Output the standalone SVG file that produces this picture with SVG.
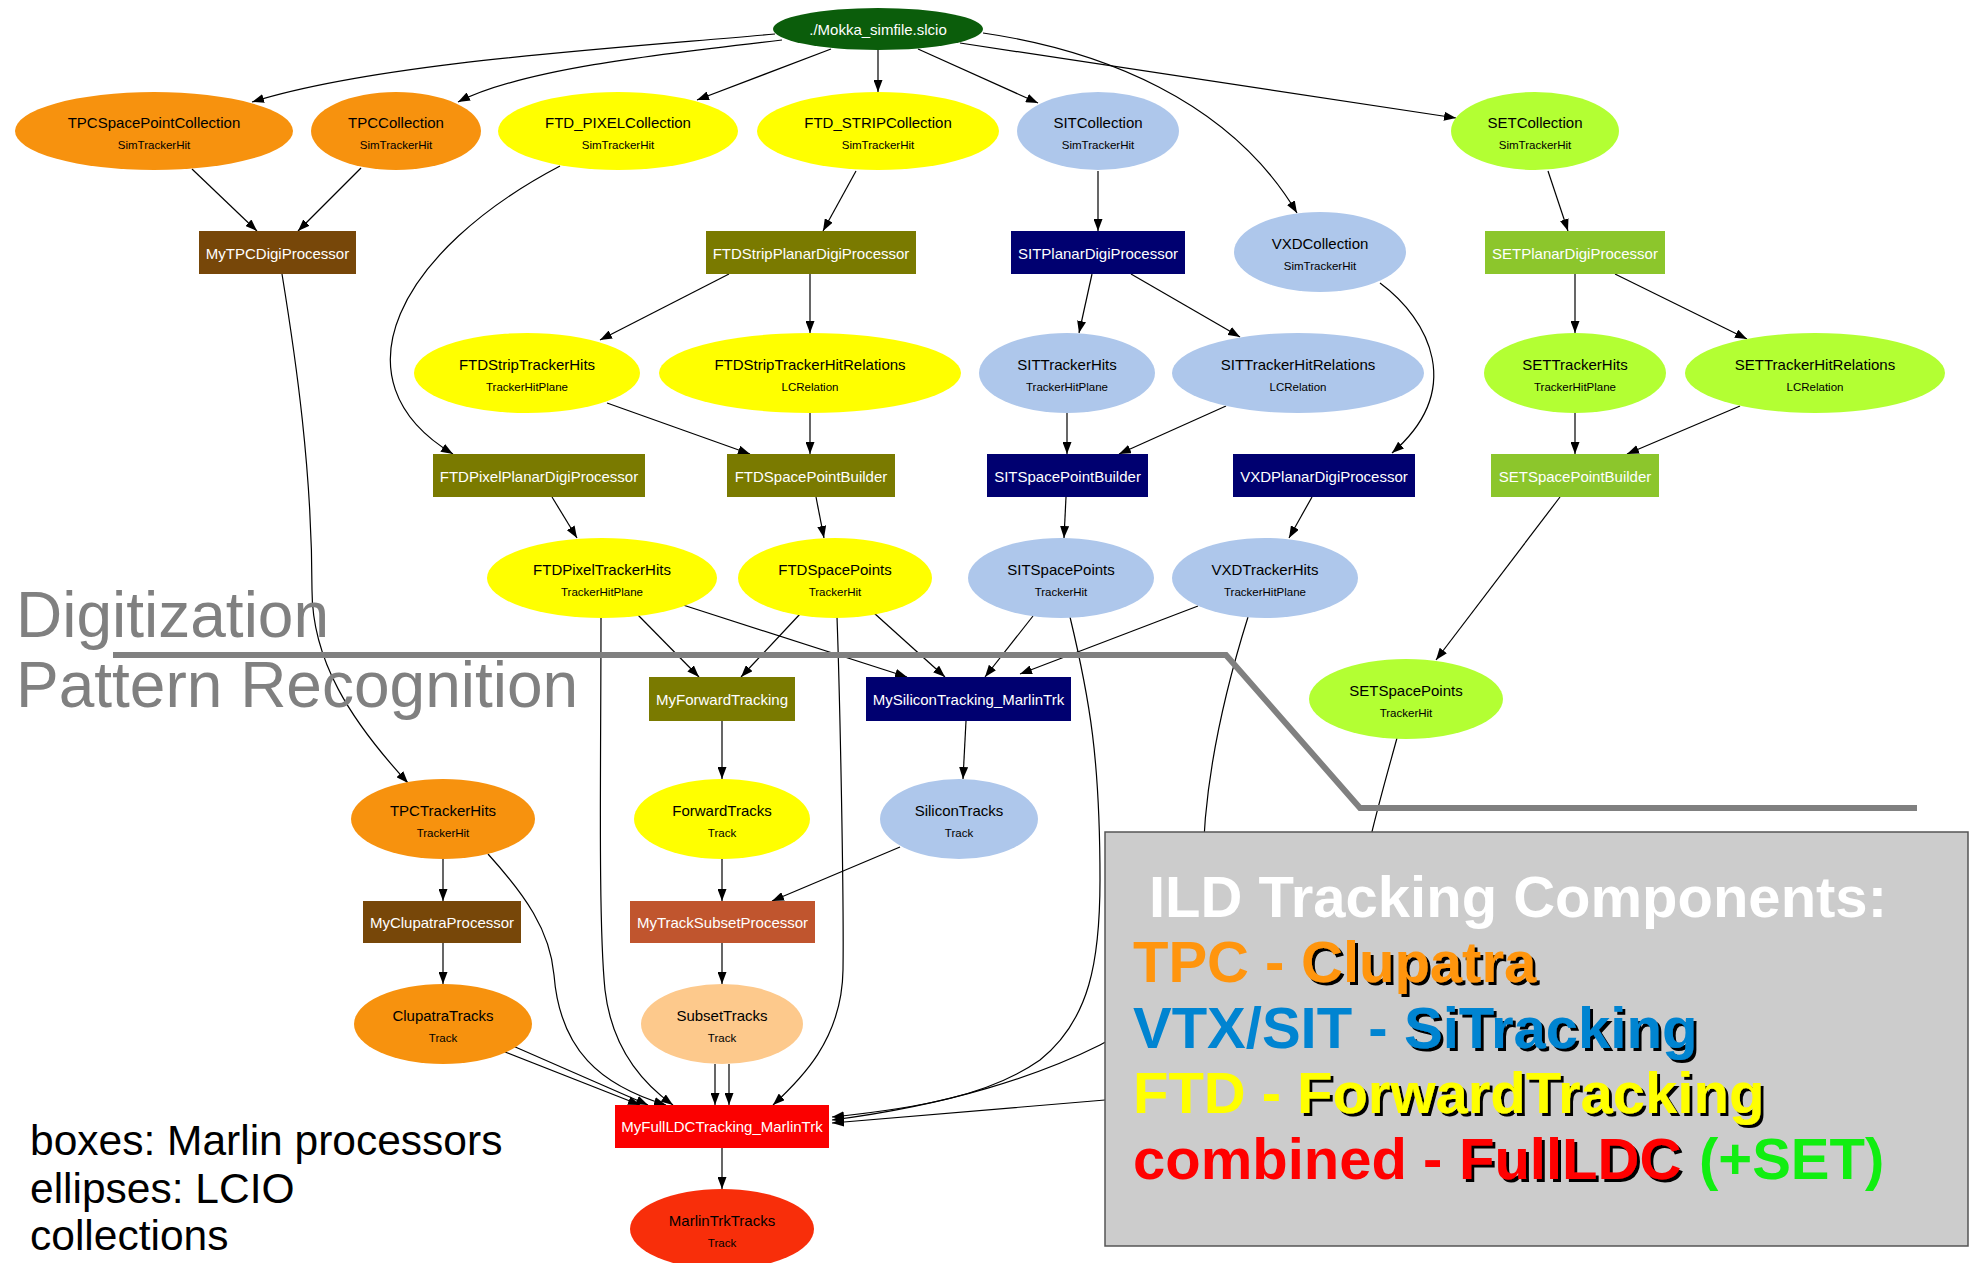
<svg xmlns="http://www.w3.org/2000/svg" width="1971" height="1263" viewBox="0 0 1971 1263">
  <defs>
    <marker id="ah" viewBox="0 0 12 9" refX="12" refY="4.5" markerWidth="12" markerHeight="9" markerUnits="userSpaceOnUse" orient="auto">
      <path d="M0,0 L12,4.5 L0,9 z" fill="#000"/>
    </marker>
    <filter id="sh" x="-5%" y="-10%" width="115%" height="130%">
      <feDropShadow dx="3" dy="3" stdDeviation="0" flood-color="#000" flood-opacity="1"/>
    </filter>
  </defs>
  <style>
    text { font-family: "Liberation Sans", Arial, sans-serif; }
    .t { font-size: 15px; text-anchor: middle; fill: #000; }
    .s { font-size: 11.5px; text-anchor: middle; fill: #000; }
    .w { font-size: 15px; text-anchor: middle; fill: #fff; }
    .edges path { fill: none; stroke: #000; stroke-width: 1.2; marker-end: url(#ah); }
    .orange { fill: #f7920e; }
    .yellow { fill: #ffff00; }
    .blue { fill: #aec7eb; }
    .lime { fill: #b3ff33; }
    .brown { fill: #774709; }
    .olive { fill: #7a7a00; }
    .navy { fill: #000070; }
    .green { fill: #8cc62c; }
    .stage { font-size: 64px; fill: #808080; }
    .key { font-size: 42.5px; fill: #000; }
    .big { font-size: 58px; font-weight: bold; }
  </style>
  <rect width="1971" height="1263" fill="#fff"/>

  <!-- connectors -->
  <g class="edges" id="edges">
    <path d="M775,34 C620,48 380,62 252,102"/>
    <path d="M782,40 C650,55 520,70 458,102"/>
    <path d="M831,49 L697,100"/>
    <path d="M878,50 L878,92"/>
    <path d="M918,49 L1038,103"/>
    <path d="M983,33 C1100,50 1230,100 1297,213"/>
    <path d="M960,43 L1456,118"/>
    <path d="M192,169 L257,231"/>
    <path d="M361,168 L298,231"/>
    <path d="M560,166 C400,250 330,380 453,454"/>
    <path d="M856,171 L823,231"/>
    <path d="M1098,171 L1098,231"/>
    <path d="M1548,171 L1568,231"/>
    <path d="M282,274 C296,360 312,470 312,590 C312,660 350,720 408,783"/>
    <path d="M729,274 L600,340"/>
    <path d="M810,274 L810,333"/>
    <path d="M1092,274 L1079,333"/>
    <path d="M1131,274 L1240,337"/>
    <path d="M1575,274 L1575,333"/>
    <path d="M1615,274 L1747,339"/>
    <path d="M1380,283 C1430,320 1465,390 1392,453"/>
    <path d="M607,403 L750,454"/>
    <path d="M810,413 L810,454"/>
    <path d="M1067,413 L1067,454"/>
    <path d="M1226,406 L1119,454"/>
    <path d="M1575,413 L1575,454"/>
    <path d="M1740,406 L1627,454"/>
    <path d="M552,497 L577,538"/>
    <path d="M816,497 L824,538"/>
    <path d="M1066,497 L1064,538"/>
    <path d="M1312,497 L1289,538"/>
    <path d="M1560,497 L1436,660"/>
    <path d="M638,615 L699,677"/>
    <path d="M683,605 L907,677"/>
    <path d="M601,617 C601,760 598,920 605,990 C612,1050 645,1085 673,1105"/>
    <path d="M800,614 L741,677"/>
    <path d="M874,613 L945,677"/>
    <path d="M837,617 C840,700 844,900 843,970 C842,1040 800,1080 773,1105"/>
    <path d="M1033,616 L985,677"/>
    <path d="M1070,617 C1090,700 1100,760 1100,880 C1100,960 1090,1020 1040,1060 C990,1095 920,1108 832,1117"/>
    <path d="M1198,606 L1020,674"/>
    <path d="M1248,617 C1222,700 1203,790 1203,870 C1203,960 1150,1020 1100,1045 C1040,1075 950,1105 832,1120"/>
    <path d="M1397,738 C1380,800 1365,850 1355,920 C1340,1030 1250,1090 1105,1100 C1000,1108 900,1118 832,1123"/>
    <path d="M722,721 L722,779"/>
    <path d="M966,721 L963,779"/>
    <path d="M443,859 L443,901"/>
    <path d="M488,854 C525,895 550,930 554,975 C560,1050 600,1085 666,1105"/>
    <path d="M443,943 L443,984"/>
    <path d="M505,1052 L640,1105"/>
    <path d="M513,1046 L648,1105"/>
    <path d="M722,859 L722,901"/>
    <path d="M900,847 L772,901"/>
    <path d="M722,943 L722,984"/>
    <path d="M715,1064 L715,1105"/>
    <path d="M729,1064 L729,1105"/>
    <path d="M722,1148 L722,1189"/>
  </g>

  <!-- collections (ellipses) -->
  <g id="mokka"><ellipse cx="878" cy="29" rx="105" ry="21" fill="#0b5d0b"/><text class="w" x="878" y="35">./Mokka_simfile.slcio</text></g>
  <g id="TPCSpacePointCollection"><ellipse class="orange" cx="154" cy="131" rx="139" ry="39"/><text class="t" x="154" y="128">TPCSpacePointCollection</text><text class="s" x="154" y="149">SimTrackerHit</text></g>
  <g id="TPCCollection"><ellipse class="orange" cx="396" cy="131" rx="85" ry="39"/><text class="t" x="396" y="128">TPCCollection</text><text class="s" x="396" y="149">SimTrackerHit</text></g>
  <g id="FTD_PIXELCollection"><ellipse class="yellow" cx="618" cy="131" rx="120" ry="39"/><text class="t" x="618" y="128">FTD_PIXELCollection</text><text class="s" x="618" y="149">SimTrackerHit</text></g>
  <g id="FTD_STRIPCollection"><ellipse class="yellow" cx="878" cy="131" rx="121" ry="39"/><text class="t" x="878" y="128">FTD_STRIPCollection</text><text class="s" x="878" y="149">SimTrackerHit</text></g>
  <g id="SITCollection"><ellipse class="blue" cx="1098" cy="131" rx="81" ry="39"/><text class="t" x="1098" y="128">SITCollection</text><text class="s" x="1098" y="149">SimTrackerHit</text></g>
  <g id="SETCollection"><ellipse class="lime" cx="1535" cy="131" rx="84" ry="39"/><text class="t" x="1535" y="128">SETCollection</text><text class="s" x="1535" y="149">SimTrackerHit</text></g>
  <g id="VXDCollection"><ellipse class="blue" cx="1320" cy="252" rx="86" ry="40"/><text class="t" x="1320" y="249">VXDCollection</text><text class="s" x="1320" y="270">SimTrackerHit</text></g>
  <g id="FTDStripTrackerHits"><ellipse class="yellow" cx="527" cy="373" rx="113" ry="40"/><text class="t" x="527" y="370">FTDStripTrackerHits</text><text class="s" x="527" y="391">TrackerHitPlane</text></g>
  <g id="FTDStripTrackerHitRelations"><ellipse class="yellow" cx="810" cy="373" rx="151" ry="40"/><text class="t" x="810" y="370">FTDStripTrackerHitRelations</text><text class="s" x="810" y="391">LCRelation</text></g>
  <g id="SITTrackerHits"><ellipse class="blue" cx="1067" cy="373" rx="88" ry="40"/><text class="t" x="1067" y="370">SITTrackerHits</text><text class="s" x="1067" y="391">TrackerHitPlane</text></g>
  <g id="SITTrackerHitRelations"><ellipse class="blue" cx="1298" cy="373" rx="126" ry="40"/><text class="t" x="1298" y="370">SITTrackerHitRelations</text><text class="s" x="1298" y="391">LCRelation</text></g>
  <g id="SETTrackerHits"><ellipse class="lime" cx="1575" cy="373" rx="91" ry="40"/><text class="t" x="1575" y="370">SETTrackerHits</text><text class="s" x="1575" y="391">TrackerHitPlane</text></g>
  <g id="SETTrackerHitRelations"><ellipse class="lime" cx="1815" cy="373" rx="130" ry="40"/><text class="t" x="1815" y="370">SETTrackerHitRelations</text><text class="s" x="1815" y="391">LCRelation</text></g>
  <g id="FTDPixelTrackerHits"><ellipse class="yellow" cx="602" cy="578" rx="115" ry="40"/><text class="t" x="602" y="575">FTDPixelTrackerHits</text><text class="s" x="602" y="596">TrackerHitPlane</text></g>
  <g id="FTDSpacePoints"><ellipse class="yellow" cx="835" cy="578" rx="97" ry="40"/><text class="t" x="835" y="575">FTDSpacePoints</text><text class="s" x="835" y="596">TrackerHit</text></g>
  <g id="SITSpacePoints"><ellipse class="blue" cx="1061" cy="578" rx="93" ry="40"/><text class="t" x="1061" y="575">SITSpacePoints</text><text class="s" x="1061" y="596">TrackerHit</text></g>
  <g id="VXDTrackerHits"><ellipse class="blue" cx="1265" cy="578" rx="93" ry="40"/><text class="t" x="1265" y="575">VXDTrackerHits</text><text class="s" x="1265" y="596">TrackerHitPlane</text></g>
  <g id="SETSpacePoints"><ellipse class="lime" cx="1406" cy="699" rx="97" ry="40"/><text class="t" x="1406" y="696">SETSpacePoints</text><text class="s" x="1406" y="717">TrackerHit</text></g>
  <g id="TPCTrackerHits"><ellipse class="orange" cx="443" cy="819" rx="92" ry="40"/><text class="t" x="443" y="816">TPCTrackerHits</text><text class="s" x="443" y="837">TrackerHit</text></g>
  <g id="ForwardTracks"><ellipse class="yellow" cx="722" cy="819" rx="88" ry="40"/><text class="t" x="722" y="816">ForwardTracks</text><text class="s" x="722" y="837">Track</text></g>
  <g id="SiliconTracks"><ellipse class="blue" cx="959" cy="819" rx="79" ry="40"/><text class="t" x="959" y="816">SiliconTracks</text><text class="s" x="959" y="837">Track</text></g>
  <g id="ClupatraTracks"><ellipse class="orange" cx="443" cy="1024" rx="89" ry="40"/><text class="t" x="443" y="1021">ClupatraTracks</text><text class="s" x="443" y="1042">Track</text></g>
  <g id="SubsetTracks"><ellipse cx="722" cy="1024" rx="81" ry="40" fill="#fdc98c"/><text class="t" x="722" y="1021">SubsetTracks</text><text class="s" x="722" y="1042">Track</text></g>
  <g id="MarlinTrkTracks"><ellipse cx="722" cy="1229" rx="92" ry="40" fill="#f82e0a"/><text class="t" x="722" y="1226">MarlinTrkTracks</text><text class="s" x="722" y="1247">Track</text></g>

  <!-- processors (boxes) -->
  <g id="MyTPCDigiProcessor"><rect class="brown" x="199" y="231" width="157" height="43"/><text class="w" x="277.5" y="259">MyTPCDigiProcessor</text></g>
  <g id="FTDStripPlanarDigiProcessor"><rect class="olive" x="706" y="231" width="210" height="43"/><text class="w" x="811" y="259">FTDStripPlanarDigiProcessor</text></g>
  <g id="SITPlanarDigiProcessor"><rect class="navy" x="1011" y="231" width="174" height="43"/><text class="w" x="1098" y="259">SITPlanarDigiProcessor</text></g>
  <g id="SETPlanarDigiProcessor"><rect class="green" x="1485" y="231" width="180" height="43"/><text class="w" x="1575" y="259">SETPlanarDigiProcessor</text></g>
  <g id="FTDPixelPlanarDigiProcessor"><rect class="olive" x="433" y="454" width="212" height="43"/><text class="w" x="539" y="482">FTDPixelPlanarDigiProcessor</text></g>
  <g id="FTDSpacePointBuilder"><rect class="olive" x="727" y="454" width="168" height="43"/><text class="w" x="811" y="482">FTDSpacePointBuilder</text></g>
  <g id="SITSpacePointBuilder"><rect class="navy" x="987" y="454" width="161" height="43"/><text class="w" x="1067.5" y="482">SITSpacePointBuilder</text></g>
  <g id="VXDPlanarDigiProcessor"><rect class="navy" x="1233" y="454" width="182" height="43"/><text class="w" x="1324" y="482">VXDPlanarDigiProcessor</text></g>
  <g id="SETSpacePointBuilder"><rect class="green" x="1491" y="454" width="168" height="43"/><text class="w" x="1575" y="482">SETSpacePointBuilder</text></g>
  <g id="MyForwardTracking"><rect class="olive" x="649" y="677" width="146" height="44"/><text class="w" x="722" y="705">MyForwardTracking</text></g>
  <g id="MySiliconTracking_MarlinTrk"><rect class="navy" x="866" y="677" width="205" height="44"/><text class="w" x="968.5" y="705">MySiliconTracking_MarlinTrk</text></g>
  <g id="MyClupatraProcessor"><rect class="brown" x="363" y="901" width="158" height="42"/><text class="w" x="442" y="928">MyClupatraProcessor</text></g>
  <g id="MyTrackSubsetProcessor"><rect x="630" y="901" width="185" height="42" fill="#c0552e"/><text class="w" x="722.5" y="928">MyTrackSubsetProcessor</text></g>
  <g id="MyFullLDCTracking_MarlinTrk"><rect x="615" y="1105" width="214" height="43" fill="#fb0000"/><text class="w" x="722" y="1132">MyFullLDCTracking_MarlinTrk</text></g>

  <!-- stage separator -->
  <polyline points="113,655 1226,655 1360,808 1917,808" fill="none" stroke="#808080" stroke-width="6"/>
  <text class="stage" x="16" y="637">Digitization</text>
  <text class="stage" x="16" y="707">Pattern Recognition</text>

  <!-- legend panel -->
  <g id="legend">
    <rect x="1105" y="832" width="863" height="414" fill="#cccccc" stroke="#555" stroke-width="1.5"/>
    <text class="big" x="1149" y="917" fill="#fff">ILD Tracking Components:</text>
    <text class="big" x="1133" y="982" fill="#ff950e">TPC - </text>
    <text class="big" x="1301" y="982" fill="#ff950e" filter="url(#sh)">Clupatra</text>
    <text class="big" x="1133" y="1048" fill="#0084d1">VTX/SIT - </text>
    <text class="big" x="1404" y="1048" fill="#0084d1" filter="url(#sh)">SiTracking</text>
    <text class="big" x="1133" y="1113" fill="#ffff00">FTD - </text>
    <text class="big" x="1297" y="1113" fill="#ffff00" filter="url(#sh)">ForwardTracking</text>
    <text class="big" x="1133" y="1179" fill="#ff0000">combined - </text>
    <text class="big" x="1459" y="1179" fill="#ff0000" filter="url(#sh)">FullLDC</text>
    <text class="big" x="1699" y="1179" fill="#11ee11">(+SET)</text>
  </g>

  <!-- key -->
  <text class="key" x="30" y="1155">boxes: Marlin processors</text>
  <text class="key" x="30" y="1203">ellipses: LCIO</text>
  <text class="key" x="30" y="1250">collections</text>
</svg>
